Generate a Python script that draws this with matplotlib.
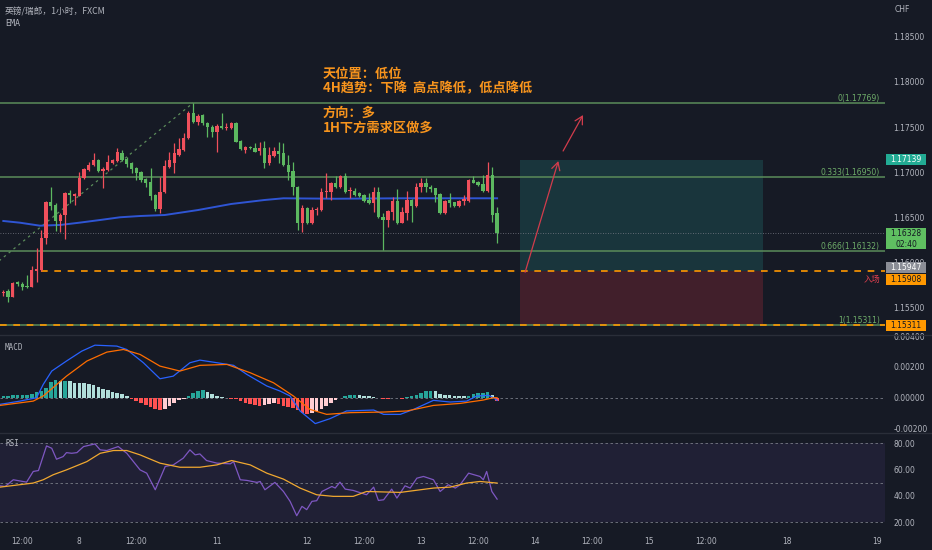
import matplotlib
matplotlib.use("Agg")
import matplotlib.pyplot as plt
from matplotlib.patches import Rectangle
from matplotlib.lines import Line2D
from matplotlib.transforms import IdentityTransform
import numpy as np

plt.rcParams['font.family'] = ['Noto Sans CJK SC', 'DejaVu Sans']

BG = '#161a25'
TXT = '#b2b5be'
UP = '#f0505c'     # red = rising (CN convention)
DOWN = '#5cb860'   # green = falling
FIB = '#5b8c5a'
ORANGE = '#ff9800'

# ---- 1h candles, GBP/CHF ----
opens = [1.15660, 1.15691, 1.15625, 1.15782, 1.15765, 1.15743, 1.15735, 1.15909, 1.15920, 1.16274,
         1.16672, 1.16639, 1.16462, 1.16528, 1.16775, 1.16738, 1.16742, 1.16941, 1.17026, 1.17081,
         1.17136, 1.17015, 1.17026, 1.17107, 1.17125, 1.17217, 1.17143, 1.17099, 1.17048, 1.17001,
         1.16930, 1.16896, 1.16749, 1.16594, 1.16779, 1.17062, 1.17107, 1.17192, 1.17247, 1.17376,
         1.17660, 1.17560, 1.17634, 1.17549, 1.17505, 1.17443, 1.17516, 1.17490, 1.17487, 1.17549,
         1.17350, 1.17247, 1.17275, 1.17273, 1.17236, 1.17266, 1.17099, 1.17184, 1.17236, 1.17211,
         1.17081, 1.17015, 1.16841, 1.16443, 1.16602, 1.16443, 1.16583, 1.16583, 1.16779, 1.16786,
         1.16879, 1.16834, 1.16963, 1.16793, 1.16797, 1.16768, 1.16749, 1.16694, 1.16664, 1.16786,
         1.16509, 1.16473, 1.16565, 1.16683, 1.16443, 1.16553, 1.16694, 1.16628, 1.16834, 1.16879,
         1.16841, 1.16823, 1.16757, 1.16547, 1.16694, 1.16669, 1.16628, 1.16686, 1.16686, 1.16915,
         1.16896, 1.16871, 1.16797, 1.16970, 1.16547]
highs = [1.15699, 1.15710, 1.15787, 1.15798, 1.15790, 1.15865, 1.15964, 1.16163, 1.16362, 1.16683,
         1.16838, 1.16661, 1.16550, 1.16786, 1.16805, 1.16771, 1.17004, 1.17048, 1.17118, 1.17217,
         1.17147, 1.17059, 1.17192, 1.17147, 1.17266, 1.17247, 1.17169, 1.17114, 1.17059, 1.17015,
         1.16937, 1.17045, 1.16760, 1.16952, 1.17136, 1.17228, 1.17321, 1.17376, 1.17432, 1.17678,
         1.17769, 1.17645, 1.17645, 1.17557, 1.17518, 1.17535, 1.17653, 1.17542, 1.17560, 1.17560,
         1.17358, 1.17291, 1.17291, 1.17321, 1.17339, 1.17350, 1.17284, 1.17284, 1.17339, 1.17328,
         1.17192, 1.17118, 1.16849, 1.16639, 1.16620, 1.16620, 1.16620, 1.16823, 1.16989, 1.16893,
         1.16959, 1.16970, 1.16989, 1.16841, 1.16823, 1.16777, 1.16760, 1.16768, 1.16841, 1.16834,
         1.16553, 1.16583, 1.16730, 1.16812, 1.16620, 1.16793, 1.16705, 1.16879, 1.16934, 1.16934,
         1.16860, 1.16832, 1.16766, 1.16694, 1.16768, 1.16677, 1.16694, 1.16749, 1.16926, 1.16959,
         1.16904, 1.16970, 1.17118, 1.17062, 1.16620]
lows = [1.15632, 1.15566, 1.15616, 1.15743, 1.15699, 1.15726, 1.15732, 1.15787, 1.15909, 1.16207,
        1.16583, 1.16354, 1.16343, 1.16263, 1.16661, 1.16639, 1.16733, 1.16926, 1.17015, 1.17070,
        1.17004, 1.16823, 1.17015, 1.17092, 1.17114, 1.17125, 1.17062, 1.16989, 1.16915, 1.16896,
        1.16834, 1.16694, 1.16576, 1.16547, 1.16771, 1.17053, 1.16996, 1.17181, 1.17236, 1.17369,
        1.17549, 1.17524, 1.17524, 1.17394, 1.17394, 1.17228, 1.17479, 1.17468, 1.17479, 1.17330,
        1.17247, 1.17211, 1.17253, 1.17220, 1.17192, 1.17045, 1.17081, 1.17175, 1.17099, 1.17070,
        1.16915, 1.16749, 1.16362, 1.16343, 1.16429, 1.16429, 1.16528, 1.16572, 1.16713, 1.16694,
        1.16827, 1.16827, 1.16768, 1.16713, 1.16738, 1.16727, 1.16677, 1.16655, 1.16565, 1.16500,
        1.16141, 1.16399, 1.16473, 1.16434, 1.16436, 1.16473, 1.16454, 1.16617, 1.16786, 1.16786,
        1.16786, 1.16675, 1.16539, 1.16539, 1.16620, 1.16617, 1.16617, 1.16639, 1.16677, 1.16877,
        1.16849, 1.16788, 1.16788, 1.16454, 1.16215]
closes = [1.15677, 1.15625, 1.15779, 1.15765, 1.15728, 1.15732, 1.15920, 1.15931, 1.16274, 1.16672,
          1.16628, 1.16462, 1.16528, 1.16771, 1.16749, 1.16755, 1.16941, 1.17037, 1.17081, 1.17136,
          1.17015, 1.17037, 1.17111, 1.17136, 1.17222, 1.17136, 1.17092, 1.17037, 1.16996, 1.16915,
          1.16885, 1.16742, 1.16594, 1.16779, 1.17073, 1.17136, 1.17211, 1.17255, 1.17383, 1.17660,
          1.17560, 1.17623, 1.17542, 1.17498, 1.17443, 1.17516, 1.17487, 1.17501, 1.17549, 1.17339,
          1.17255, 1.17284, 1.17264, 1.17228, 1.17266, 1.17107, 1.17192, 1.17236, 1.17203, 1.17081,
          1.17007, 1.16841, 1.16436, 1.16602, 1.16443, 1.16583, 1.16600, 1.16786, 1.16797, 1.16879,
          1.16834, 1.16963, 1.16786, 1.16801, 1.16749, 1.16738, 1.16686, 1.16664, 1.16786, 1.16509,
          1.16473, 1.16572, 1.16683, 1.16443, 1.16565, 1.16694, 1.16628, 1.16834, 1.16879, 1.16834,
          1.16812, 1.16749, 1.16547, 1.16686, 1.16657, 1.16628, 1.16686, 1.16702, 1.16915, 1.16885,
          1.16860, 1.16797, 1.16970, 1.16528, 1.16328]

# EMA read at a few bars
ema_x = [0, 3.5, 7.7, 12, 16, 20.4, 24.6, 28.8, 34, 41, 48, 55, 59, 70, 83.6, 96, 104]
ema_y = [1.16462, 1.16443, 1.16410, 1.16418, 1.16443, 1.16473, 1.16503, 1.16517, 1.16528, 1.16583,
         1.16650, 1.16694, 1.16713, 1.16708, 1.16713, 1.16713, 1.16713]

fib_ratios = ['0', '0.333', '0.666', '1']
fib_prices = [1.17769, 1.16950, 1.16132, 1.15311]
entry_price = 1.15908
target_price = 1.17139
stop_price = 1.15311
last_price = 1.16328
grey_price = 1.15947

notes = ['天位置：低位', '4H趋势：下降  高点降低，低点降低', '方向：多', '1H下方需求区做多']
note_prices = [1.18090, 1.17933, 1.17655, 1.17490]

# MACD histogram per bar
macd_hist = [0.00011, 0.00011, 0.00015, 0.00017, 0.00019, 0.00019, 0.00024, 0.00037, 0.00041, 0.00063,
             0.00102, 0.00112, 0.00108, 0.00108, 0.00106, 0.00097, 0.00095, 0.00093, 0.00091, 0.00084,
             0.00071, 0.00058, 0.00048, 0.00037, 0.00028, 0.00022, 0.00011, -0.00006, -0.00019, -0.00032,
             -0.00045, -0.00058, -0.00071, -0.00082, -0.00076, -0.00054, -0.00032, -0.00017, -0.00006, 0.00011,
             0.00032, 0.00043, 0.00048, 0.00037, 0.00022, 0.00011, 0.00006, 0.00001, -0.00006, -0.00011,
             -0.00022, -0.00032, -0.00043, -0.00050, -0.00054, -0.00045, -0.00043, -0.00037, -0.00043, -0.00054,
             -0.00060, -0.00065, -0.00080, -0.00097, -0.00108, -0.00097, -0.00084, -0.00071, -0.00054, -0.00037,
             -0.00015, -0.00002, 0.00011, 0.00017, 0.00019, 0.00015, 0.00013, 0.00011, 0.00006, 0.00000,
             -0.00006, -0.00011, -0.00004, -0.00002, -0.00009, 0.00002, 0.00011, 0.00019, 0.00032, 0.00041,
             0.00045, 0.00041, 0.00022, 0.00017, 0.00015, 0.00013, 0.00011, 0.00009, 0.00013, 0.00024,
             0.00032, 0.00032, 0.00035, 0.00017, -0.00022]
macd_x = [-0.7, 3.5, 7.0, 8.4, 10.2, 13.3, 16.5, 19.3, 23.9, 26.0, 29.5, 33.0, 35.8, 39.3, 41.4, 45.0,
          48.5, 51.3, 55.5, 58.3, 60.4, 62.5, 65.7, 68.8, 72.3, 78.0, 80.1, 83.6, 86.4, 90.6, 94.1,
          97.6, 99.7, 102.2, 103.2, 104.0]
macd_line = [-0.00043, -0.00022, 0.0, 0.00086, 0.00173, 0.00238, 0.00302, 0.00341, 0.00335, 0.00313,
             0.00227, 0.00123, 0.00140, 0.00227, 0.00244, 0.00227, 0.00210, 0.00151, 0.00076, 0.00043,
             0.00011, -0.00086, -0.00168, -0.00136, -0.00086, -0.00080, -0.00108, -0.00108, -0.00076,
             -0.00017, -0.00028, -0.00022, 0.00011, 0.00015, 0.0, -0.00017]
signal_x = [-0.7, 6.3, 8.4, 13.3, 17.6, 21.8, 25.3, 28.8, 33.0, 37.2, 41.4, 47.1, 52.0, 56.9, 61.1,
            64.6, 68.1, 73.0, 80.1, 85.0, 90.6, 96.2, 101.1, 103.2, 104.0]
signal_line = [-0.00050, -0.00022, 0.00011, 0.00140, 0.00238, 0.00296, 0.00313, 0.00281, 0.00205,
               0.00173, 0.00210, 0.00216, 0.00162, 0.00097, 0.00011, -0.00076, -0.00108, -0.00097,
               -0.00093, -0.00086, -0.00050, -0.00037, -0.00015, 0.0, 0.0]

# RSI and its moving average
rsi_x = [-0.7, 0.4, 2.1, 4.9, 6.3, 7.4, 9.1, 10.2, 11.2, 12.6, 13.3, 14.4, 15.5, 16.9, 19.3, 20.4,
         21.8, 24.2, 26.0, 28.8, 30.2, 32.0, 34.1, 35.8, 37.9, 39.3, 40.4, 41.4, 42.8, 45.0, 47.8,
         48.5, 49.9, 51.3, 53.4, 54.1, 55.1, 57.2, 59.0, 60.4, 61.8, 62.9, 63.9, 65.0, 66.0, 67.1,
         69.2, 69.9, 70.9, 72.0, 73.7, 76.5, 78.0, 79.0, 80.1, 81.8, 82.9, 84.6, 85.7, 87.1, 88.5,
         90.6, 92.0, 93.7, 95.2, 96.2, 98.0, 100.4, 101.1, 101.8, 102.9, 104.0]
rsi_vals = [47.7, 47.2, 52.3, 50.5, 58.6, 59.3, 78.0, 76.2, 67.9, 69.9, 72.9, 72.4, 72.9, 77.5, 79.5,
            75.0, 74.5, 77.5, 72.4, 59.8, 57.3, 44.7, 62.4, 63.6, 68.7, 75.0, 71.2, 71.9, 66.9, 64.9,
            64.4, 66.1, 52.3, 51.8, 50.3, 51.0, 44.7, 50.3, 43.4, 35.9, 25.0, 32.1, 29.6, 35.9, 36.4,
            43.4, 47.2, 46.0, 50.5, 45.2, 44.2, 40.9, 46.7, 36.6, 37.1, 45.2, 38.4, 47.7, 46.0, 53.5,
            54.8, 52.3, 43.4, 48.5, 46.0, 48.5, 57.3, 54.8, 52.3, 58.6, 43.4, 37.6]
rsi_ma_x = [-0.7, 6.3, 8.4, 10.5, 13.3, 17.6, 20.4, 23.2, 26.0, 28.8, 33.0, 37.2, 41.4, 45.0, 48.1,
            52.0, 55.5, 59.0, 62.5, 66.0, 69.5, 73.7, 76.5, 83.6, 90.6, 94.1, 97.6, 100.4, 104.0]
rsi_ma = [46.7, 49.8, 52.3, 56.1, 59.8, 66.1, 72.4, 74.5, 74.5, 71.2, 64.9, 61.8, 61.8, 63.6, 66.9,
          63.6, 57.3, 52.8, 46.0, 40.9, 39.7, 39.7, 43.4, 42.7, 46.0, 46.7, 49.8, 51.0, 49.8]

tick_pos = [4, 16, 28, 45, 64, 76, 88, 100, 112, 124, 136, 148, 165, 184]
tick_lab = ['12:00', '8', '12:00', '11', '12', '12:00', '13', '12:00', '14', '12:00', '15', '12:00',
            '18', '19']

# ---------------- layout ----------------
W, H = 932, 550
PLOT_R = 885
fig = plt.figure(figsize=(W / 100, H / 100), dpi=100, facecolor=BG)


def pane(top, bottom):
    return [0, 1 - bottom / H, PLOT_R / W, (bottom - top) / H]


ax = fig.add_axes(pane(0, 334))
ax_macd = fig.add_axes(pane(335, 433), sharex=ax)
ax_rsi = fig.add_axes(pane(433, 531), sharex=ax)

for a in (ax, ax_macd, ax_rsi):
    a.set_facecolor(BG)
    for s in a.spines.values():
        s.set_visible(False)
    a.yaxis.tick_right()
    a.tick_params(axis='y', length=0, labelsize=5.5, labelcolor=TXT, pad=6)
    a.tick_params(axis='x', length=0, labelsize=5.5, labelcolor=TXT, pad=4)
ax.tick_params(labelbottom=False)
ax_macd.tick_params(labelbottom=False)

ax.set_xlim(-0.7, 185.7)
ax.set_ylim(1.15212, 1.18906)
ax_macd.set_ylim(-0.00229, 0.00407)
ax_rsi.set_ylim(13.4, 87.8)

# ---------------- price pane ----------------
x = np.arange(len(opens))
o, h, l, c = map(np.array, (opens, highs, lows, closes))
cols = np.where(c >= o, UP, DOWN)

# fib levels
for r, p in zip(fib_ratios, fib_prices):
    ax.axhline(p, color=FIB, lw=1.1, zorder=1)
    ax.text(0.994, p, f'{r}({p:.5f})', transform=ax.get_yaxis_transform(), ha='right', va='bottom',
            fontsize=5.5, color='#6fae6a', family='DejaVu Sans')
ax.plot([-17.5, 40], [fib_prices[3], fib_prices[0]], color=FIB, lw=0.9, ls=(0, (2, 3)), zorder=1)

# position box
ax.add_patch(Rectangle((108.8, entry_price), 51.2, target_price - entry_price,
                       facecolor='#26a69a', alpha=0.2, lw=0, zorder=0.5))
ax.add_patch(Rectangle((108.8, stop_price), 51.2, entry_price - stop_price,
                       facecolor='#f23645', alpha=0.2, lw=0, zorder=0.5))

ax.plot([8, 185.7], [entry_price, entry_price], color=ORANGE, lw=1.2, ls=(0, (4, 4)), zorder=2)
ax.axhline(stop_price, color=ORANGE, lw=1.2, ls=(0, (4, 4)), zorder=2)
ax.axhline(last_price, color='#787b86', lw=0.6, ls=(0, (1, 2)), zorder=1)

ax.plot(ema_x, ema_y, color='#2f55d4', lw=1.4, zorder=2)

ax.vlines(x, l, h, colors=cols, lw=0.9, zorder=3)
ax.bar(x, np.maximum(np.abs(c - o), 0.00003), bottom=np.minimum(o, c), width=0.7,
       color=cols, lw=0, zorder=4)

arrow = dict(arrowstyle='->,head_length=0.55,head_width=0.3', color='#d23c4c', lw=0.9,
             mutation_scale=10, shrinkA=0, shrinkB=0)
ax.annotate('', xy=(116.9, 1.17125), xytext=(109.9, 1.15895), arrowprops=arrow, zorder=5)
ax.annotate('', xy=(122.1, 1.17634), xytext=(117.9, 1.17236), arrowprops=arrow, zorder=5)

for t, p in zip(notes, note_prices):
    ax.text(67.3, p, t, color='#f7941d', fontsize=9.5, fontweight='bold', va='center', ha='left',
            zorder=6)

ax.set_yticks([1.155, 1.16, 1.165, 1.17, 1.175, 1.18, 1.185])
ax.set_yticklabels([f'{v:.5f}' for v in ax.get_yticks()], family='DejaVu Sans')

# ---------------- MACD ----------------
mh = np.array(macd_hist)
prev = np.concatenate([[0.0], mh[:-1]])
hcols = np.where(mh >= 0, np.where(mh >= prev, '#26a69a', '#b2dfdb'),
                 np.where(mh <= prev, '#ff5252', '#ffcdd2'))
ax_macd.bar(x, mh, width=0.75, color=hcols, lw=0, zorder=2)
ax_macd.axhline(0, color='#787b86', lw=0.6, ls=(0, (3, 3)), zorder=1)
ax_macd.plot(macd_x, macd_line, color='#2962ff', lw=0.9, zorder=3)
ax_macd.plot(signal_x, signal_line, color='#ff6d00', lw=0.9, zorder=3)
ax_macd.set_yticks([-0.002, 0.0, 0.002, 0.004])
ax_macd.set_yticklabels([f'{v:.5f}' for v in (-0.002, 0.0, 0.002, 0.004)], family='DejaVu Sans')

# ---------------- RSI ----------------
ax_rsi.axhspan(20, 80, color='#7e57c2', alpha=0.1, lw=0, zorder=0)
for lv in (20, 50, 80):
    ax_rsi.axhline(lv, color='#787b86', lw=0.6, ls=(0, (3, 3)), zorder=1)
ax_rsi.plot(rsi_x, rsi_vals, color='#7e57c2', lw=0.9, zorder=3)
ax_rsi.plot(rsi_ma_x, rsi_ma, color='#f0a830', lw=0.9, zorder=3)
ax_rsi.set_yticks([20, 40, 60, 80])
ax_rsi.set_yticklabels([f'{v:.2f}' for v in (20, 40, 60, 80)], family='DejaVu Sans')
ax_rsi.set_xticks(tick_pos)
ax_rsi.set_xticklabels(tick_lab, family='DejaVu Sans')

# ---------------- overlays in pixel space ----------------
ident = IdentityTransform()
for yy in (334.5, 433.0):
    fig.add_artist(Line2D([0, W], [H - yy, H - yy], color='#2a2e39', lw=1, transform=ident))


def px(value, axis=ax):
    return axis.transData.transform((0, value))[1]


def price_tag(value, text, face, fg, dy=0, height=11, top_off=None):
    yc = px(value) - dy
    y0 = yc - height / 2 if top_off is None else yc + top_off - height
    fig.add_artist(Rectangle((886, y0), 40, height, transform=ident, facecolor=face, lw=0, zorder=5))
    fig.text(906, y0 + height / 2, text, transform=ident, ha='center', va='center', fontsize=5.5,
             color=fg, family='DejaVu Sans', linespacing=1.3, zorder=6)


price_tag(target_price, f'{target_price:.5f}', '#22ab94', 'white')
price_tag(last_price, f'{last_price:.5f}\n02:40', '#5fbf61', '#131722', height=21, top_off=5)
price_tag(grey_price, f'{grey_price:.5f}', '#8a8d96', 'white')
price_tag(entry_price, f'{entry_price:.5f}', ORANGE, '#131722', dy=8)
price_tag(stop_price, f'{stop_price:.5f}', ORANGE, '#131722')
fig.text(880, px(entry_price) - 8, '入场', transform=ident, ha='right', va='center', fontsize=6,
         color='#e0404f', zorder=6)

fig.text(895, H - 10, 'CHF', transform=ident, ha='left', va='center', fontsize=5.5, color=TXT,
         family='DejaVu Sans')
fig.text(5, H - 12, '英镑/瑞郎，1小时，FXCM', transform=ident, ha='left', va='center', fontsize=6.3,
         color=TXT)
fig.text(5, H - 24, 'EMA', transform=ident, ha='left', va='center', fontsize=6, color=TXT,
         family='DejaVu Sans Mono')
fig.text(5, H - 347, 'MACD', transform=ident, ha='left', va='center', fontsize=5.5, color=TXT,
         family='DejaVu Sans Mono')
fig.text(5, H - 444, 'RSI', transform=ident, ha='left', va='center', fontsize=5.5, color=TXT,
         family='DejaVu Sans Mono')

fig.savefig('out.png', dpi=100, facecolor=BG)
